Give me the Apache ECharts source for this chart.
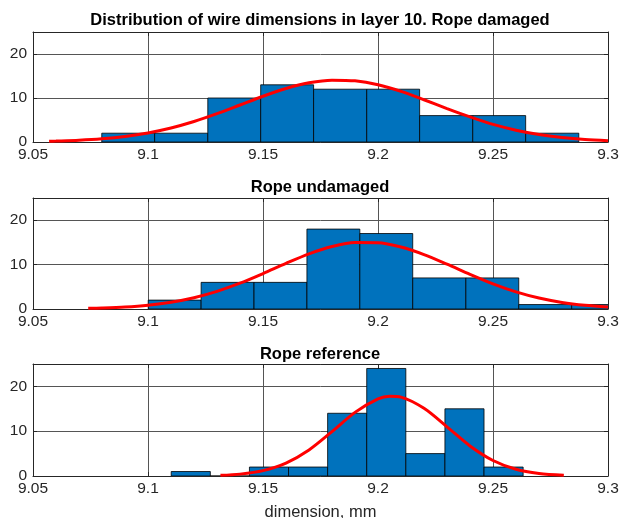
<!DOCTYPE html>
<html>
<head>
<meta charset="utf-8">
<script src="https://cdn.jsdelivr.net/npm/echarts@6/dist/echarts.min.js"></script>
<style>
  html, body { margin: 0; padding: 0; background: #fff; }
  #main { width: 620px; height: 518px; }
</style>
</head>
<body>
<div id="main"></div>
<script>
// histogram bin edges and counts
var damagedEdges = [9.0799, 9.1029, 9.1260, 9.1490, 9.1720, 9.1951, 9.2181, 9.2412, 9.2642, 9.2873];
var damagedCounts = [2, 2, 10, 13, 12, 12, 6, 6, 2];
var undamagedEdges = [9.1001, 9.1231, 9.1461, 9.1691, 9.1921, 9.2151, 9.2382, 9.2612, 9.2842, 9.3072];
var undamagedCounts = [2, 6, 6, 18, 17, 7, 7, 1, 1];
var referenceEdges = [9.1101, 9.1271, 9.1441, 9.1611, 9.1781, 9.1951, 9.2121, 9.2291, 9.2461, 9.2631];
var referenceCounts = [1, 0, 2, 2, 14, 24, 5, 15, 2];

// fitted curves (red), sampled by eye
var damagedFitX = [9.057, 9.06, 9.07, 9.08, 9.09, 9.10, 9.11, 9.12, 9.13, 9.14, 9.15, 9.16, 9.17, 9.18, 9.19,
  9.20, 9.21, 9.22, 9.23, 9.24, 9.25, 9.26, 9.27, 9.28, 9.29, 9.30];
var damagedFitY = [0.17, 0.21, 0.40, 0.73, 1.26, 2.06, 3.18, 4.65, 6.43, 8.41, 10.4, 12.16, 13.45, 14.06, 13.9,
  13.0, 11.5, 9.6, 7.6, 5.7, 4.0, 2.69, 1.70, 1.02, 0.57, 0.31];
var undamagedFitX = [9.074, 9.08, 9.09, 9.10, 9.11, 9.12, 9.13, 9.14, 9.15, 9.16, 9.17, 9.18, 9.19, 9.20,
  9.21, 9.22, 9.23, 9.24, 9.25, 9.26, 9.27, 9.28, 9.29, 9.30];
var undamagedFitY = [0.15, 0.23, 0.46, 0.87, 1.54, 2.55, 3.98, 5.81, 7.98, 10.27, 12.41, 14.06, 14.95, 14.91,
  13.95, 12.25, 10.09, 7.80, 5.66, 3.85, 2.46, 1.47, 0.83, 0.44];
var referenceFitX = [9.1315, 9.14, 9.15, 9.16, 9.17, 9.18, 9.19, 9.20, 9.205, 9.21, 9.22, 9.23, 9.24, 9.25,
  9.26, 9.27, 9.2808];
var referenceFitY = [0.15, 0.42, 1.20, 2.88, 5.81, 9.91, 14.2, 17.2, 17.8, 17.6, 15.1, 10.97, 6.71, 3.46,
  1.50, 0.55, 0.15];

var titles = [
  "Distribution of wire dimensions in layer 10. Rope damaged",
  "Rope undamaged",
  "Rope reference"
];
var xLabel = "dimension, mm";

var FONT = "Liberation Sans";
var FRAME = "#262626";
var GRID_LINE = "#555";

function bins(edges, counts) {
  return counts.map(function (c, i) {
    return [edges[i], edges[i + 1], c];
  });
}

function pairs(xs, ys) {
  return xs.map(function (x, i) {
    return [x, ys[i]];
  });
}

function renderBar(params, api) {
  var p0 = api.coord([api.value(0), api.value(2)]);
  var p1 = api.coord([api.value(1), 0]);
  return {
    type: "rect",
    shape: { x: p0[0], y: p0[1], width: p1[0] - p0[0], height: p1[1] - p0[1] },
    style: { fill: "#0072BD", stroke: "#000", lineWidth: 0.8 },
  };
}

var panels = [
  { top: 32, height: 110, hist: bins(damagedEdges, damagedCounts), fit: pairs(damagedFitX, damagedFitY), titleTop: 7 },
  { top: 198, height: 111, hist: bins(undamagedEdges, undamagedCounts), fit: pairs(undamagedFitX, undamagedFitY), titleTop: 174 },
  { top: 364, height: 112, hist: bins(referenceEdges, referenceCounts), fit: pairs(referenceFitX, referenceFitY), titleTop: 341 },
];

var grid = [], xAxis = [], yAxis = [], series = [], title = [];

panels.forEach(function (p, i) {
  grid.push({ left: 33, right: 12, top: p.top, height: p.height, containLabel: false, outerBoundsMode: "none" });
  title.push({
    text: titles[i],
    left: 315,
    top: p.titleTop,
    textAlign: "center",
    textStyle: { fontFamily: FONT, fontSize: 16.5, fontWeight: "bold", color: "#000" },
  });
  // bottom axis with labels and grid
  xAxis.push({
    type: "value",
    gridIndex: i,
    min: 9.05,
    max: 9.3,
    interval: 0.05,
    position: "bottom",
    axisLine: { show: true, lineStyle: { color: FRAME, width: 1 } },
    axisTick: { show: true, inside: true, length: 4, lineStyle: { color: FRAME } },
    axisLabel: { fontFamily: FONT, fontSize: 15.5, color: FRAME, margin: 5 },
    splitLine: { show: true, lineStyle: { color: GRID_LINE, width: 1 } },
    name: i === 2 ? xLabel : "",
    nameLocation: "middle",
    nameGap: 28,
    nameTextStyle: { fontFamily: FONT, fontSize: 16.5, color: FRAME },
  });
  // top frame
  xAxis.push({
    type: "value",
    gridIndex: i,
    min: 9.05,
    max: 9.3,
    interval: 0.05,
    position: "top",
    axisLine: { show: true, onZero: false, lineStyle: { color: FRAME, width: 1 } },
    axisTick: { show: true, inside: true, length: 4, lineStyle: { color: FRAME } },
    axisLabel: { show: false },
    splitLine: { show: false },
  });
  yAxis.push({
    type: "value",
    gridIndex: i,
    min: 0,
    max: 25,
    interval: 10,
    position: "left",
    axisLine: { show: true, lineStyle: { color: FRAME, width: 1 } },
    axisTick: { show: true, inside: true, length: 4, lineStyle: { color: FRAME } },
    axisLabel: { fontFamily: FONT, fontSize: 15.5, color: FRAME, margin: 6, showMaxLabel: false },
    splitLine: { show: true, lineStyle: { color: GRID_LINE, width: 1 } },
  });
  yAxis.push({
    type: "value",
    gridIndex: i,
    min: 0,
    max: 25,
    interval: 10,
    position: "right",
    axisLine: { show: true, onZero: false, lineStyle: { color: FRAME, width: 1 } },
    axisTick: { show: true, inside: true, length: 4, lineStyle: { color: FRAME } },
    axisLabel: { show: false },
    splitLine: { show: false },
  });

  series.push({
    type: "custom",
    xAxisIndex: i * 2,
    yAxisIndex: i * 2,
    renderItem: renderBar,
    encode: { x: [0, 1], y: 2 },
    data: p.hist,
    clip: true,
    silent: true,
    z: 2,
  });
  series.push({
    type: "line",
    xAxisIndex: i * 2,
    yAxisIndex: i * 2,
    data: p.fit,
    smooth: 0.3,
    showSymbol: false,
    lineStyle: { color: "#ff0000", width: 3 },
    itemStyle: { color: "#ff0000" },
    clip: true,
    silent: true,
    z: 3,
  });
});

var myChart = echarts.init(document.getElementById("main"), null, { renderer: "canvas" });
myChart.setOption({
  animation: false,
  backgroundColor: "#fff",
  textStyle: { fontFamily: FONT },
  title: title,
  grid: grid,
  xAxis: xAxis,
  yAxis: yAxis,
  series: series,
});
</script>
</body>
</html>
